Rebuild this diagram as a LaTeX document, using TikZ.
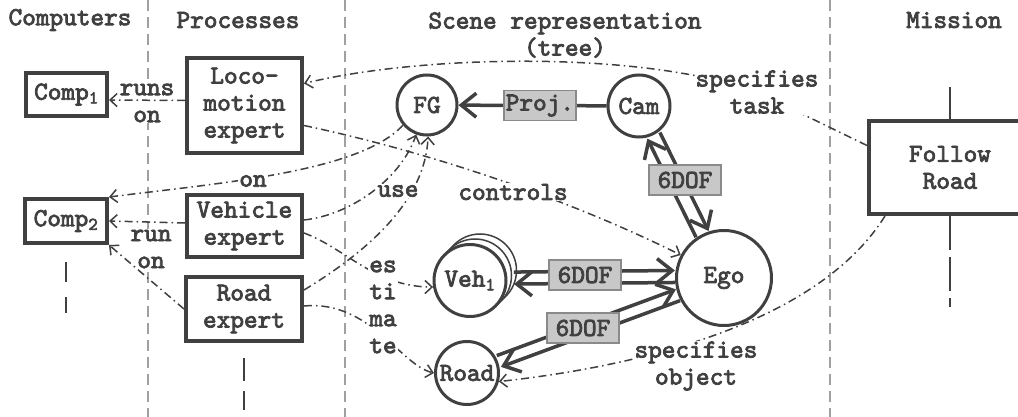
\documentclass[tikz,border=0pt]{standalone}
\usepackage{fontspec}
\newfontfamily\typewriterbold{lmmono10-regular.otf}[FakeBold=3]
\usetikzlibrary{arrows.meta,calc}
\definecolor{ink}{HTML}{404040}
\definecolor{sepgray}{HTML}{A0A0A0}
\definecolor{tagfill}{HTML}{C8C8C8}
\definecolor{tagline}{HTML}{8A8A8A}
\newcommand\diagfont{\typewriterbold\fontsize{26pt}{27pt}\selectfont}
\begin{document}
\begin{tikzpicture}[x=1pt,y=-1pt,
  every node/.style={font=\diagfont, text=ink},
  box/.style={draw=ink, line width=4pt, align=center, inner sep=0pt},
  circ/.style={circle, draw=ink, line width=3pt, fill=white, inner sep=0pt},
  tag/.style={fill=tagfill, draw=tagline, line width=1.2pt, minimum width=72pt, minimum height=30pt, inner sep=1pt},
  big/.style={draw=ink, line width=3.5pt, -{Straight Barb[length=15pt,width=24pt]}},
  dd/.style={draw=ink, line width=1.5pt, dash pattern=on 8pt off 4pt on 1.5pt off 4pt, -{Straight Barb[length=7pt,width=13pt]}},
  lbl/.style={fill=white, inner sep=1pt, align=center},
  sepline/.style={draw=sepgray, line width=2pt, dash pattern=on 11pt off 6pt},
  life/.style={draw=ink, line width=2pt}]
\useasboundingbox (0,0) rectangle (1018,417);
\fill[white] (0,0) rectangle (1018,417);
\clip (0,0) rectangle (1018,417);

% column separators
\draw[sepline] (148,0) -- (148,417);
\draw[sepline] (345,0) -- (345,417);
\draw[sepline] (830,0) -- (830,417);

% column headings
\node (hcomp) at (70,20) {Computers};
\node (hproc) at (238,20) {Processes};
\node[align=center] (hscene) at (565,35) {Scene representation\\(tree)};
\node (hmiss) at (954,20) {Mission};

% computers, processes and mission
\node[box, minimum width=81pt, minimum height=43pt] (comp1) at (66.5,94.5) {Comp\textsubscript{1}};
\node[box, minimum width=115pt, minimum height=95pt] (loco) at (244.5,105.5) {Loco-\\motion\\expert};
\node[box, minimum width=82pt, minimum height=44pt] (comp2) at (66,221) {Comp\textsubscript{2}};
\node[box, minimum width=115pt, minimum height=62pt] (vehexp) at (244.5,226) {Vehicle\\expert};
\node[box, minimum width=116pt, minimum height=64pt] (roadexp) at (244,309) {Road\\expert};
\node[box, minimum width=162pt, minimum height=93pt] (follow) at (950,167.5) {Follow\\Road};

% lifelines
\draw[life, dash pattern=on 20pt off 15pt] ([yshift=-17pt]comp2.south) -- ++(0,51);
\draw[life, dash pattern=on 23pt off 10pt] ([yshift=-15pt]roadexp.south) -- ++(0,52);
\draw[life] (follow.north) -- ++(0,-32);
\draw[life, dash pattern=on 34pt off 7pt] (follow.south) -- ++(0,91);

% scene tree frames
\node[circ, minimum size=60pt] (fg) at (427,105) {FG};
\node[circ, minimum size=62pt] (cam) at (639,106) {Cam};
\node[circ, minimum size=95pt] (ego) at (724,278) {Ego};
\node[circ, line width=1.5pt, minimum size=73pt] (vehb2) at (480,270.5) {};
\node[circ, line width=1.5pt, minimum size=73pt] (vehb1) at (475,275.5) {};
\node[circ, minimum size=72pt] (veh) at (470,280.5) {Veh\textsubscript{1}};
\node[circ, minimum size=63pt] (road) at (467,373) {Road};

% "runs on" labels
\node[lbl] (runson) at (147,103) {runs\\on};
\node[lbl] (runon) at (151,249) {run\\on};

% process relations
\draw[dd] ([yshift=5pt]loco.west) -- ([yshift=-5.5pt]comp1.east);
\draw[dd] ([yshift=3pt]vehexp.west) -- (comp2.east);
\draw[dd] (roadexp.west) -- (comp2.south east);
\draw[dd] (fg.220) .. controls (360,172) and (220,183) .. (comp2.north east);
\draw[dd] ([yshift=6pt]vehexp.east) .. controls (350,215) and (400,180) .. (fg.250);
\draw[dd] ([yshift=19pt]roadexp.east) .. controls (370,250) and (425,200) .. (fg.272);
\draw[dd] ([yshift=-20pt]loco.east) .. controls (420,150) and (560,195) .. (ego.152);
\draw[dd] ([yshift=-7pt]vehexp.east) .. controls (345,248) and (375,287) .. (veh.190);
\draw[dd] ([yshift=3pt]roadexp.east) .. controls (370,300) and (400,365) .. (road.west);
\coordinate (taskat) at (757,92);
\draw[dd] ([yshift=22pt]follow.west) -- (taskat) .. controls (640,50) and (420,55) .. ([yshift=22pt]loco.east);
\draw[dd] ([xshift=18pt]follow.south west) .. controls (820,320) and (650,365) .. (road.-15);

% relation labels
\node[lbl] (on) at (253,181) {on};
\node[lbl] (use) at (398,191) {use};
\node[lbl] (controls) at (513,192) {controls};
\node[lbl] (estimate) at (383,307) {es\\ti\\ma\\te};
\node[lbl] (task) at (taskat) {specifies\\task};
\node[lbl] (object) at (696,366) {specifies\\object};

% transforms between frames
\draw[big] (cam) -- node[tag, pos=0.45] (proj) {Proj.} (fg);

\draw[big] ($(cam)!33pt!(ego)!7pt!90:(ego)$) -- ($(ego)!49pt!(cam)!7pt!-90:(cam)$);
\draw[big] ($(ego)!49pt!(cam)!7pt!90:(cam)$) -- ($(cam)!33pt!(ego)!7pt!-90:(ego)$);
\node[tag] (dofcam) at (685,180) {6DOF};

\draw[big] ($(veh)!44pt!(ego)!8pt!90:(ego)$) -- ($(ego)!49pt!(veh)!8pt!-90:(veh)$);
\draw[big] ($(ego)!49pt!(veh)!4pt!90:(veh)$) -- ($(veh)!44pt!(ego)!4pt!-90:(ego)$);
\node[tag] (dofveh) at (585,275) {6DOF};

\draw[big] ($(road)!34pt!(ego)!6pt!90:(ego)$) -- ($(ego)!49pt!(road)!6pt!-90:(road)$);
\draw[big] ($(ego)!49pt!(road)!6pt!90:(road)$) -- ($(road)!34pt!(ego)!6pt!-90:(ego)$);
\node[tag] (dofroad) at (583,328) {6DOF};
\end{tikzpicture}
\end{document}
